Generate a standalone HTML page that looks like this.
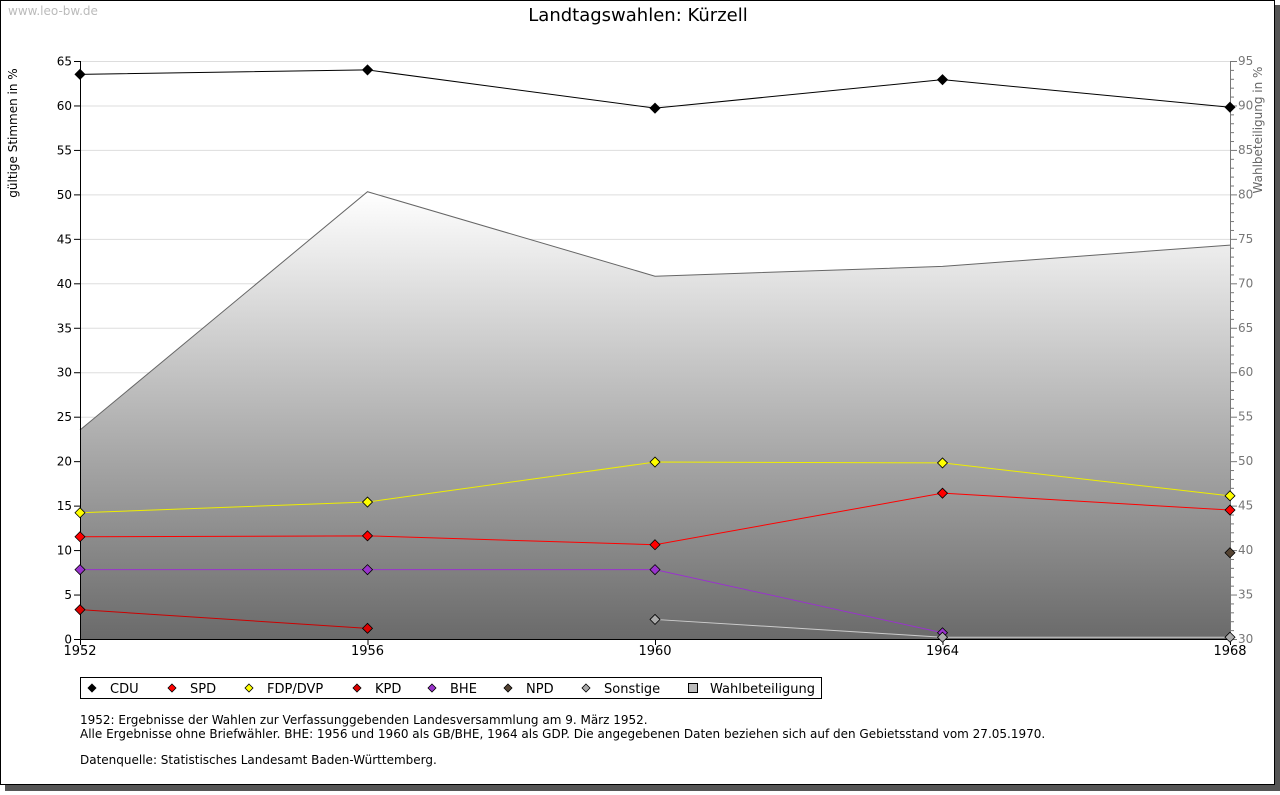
<!DOCTYPE html>
<html><head><meta charset="utf-8"><style>
body{margin:0;background:#fff;font-family:"DejaVu Sans","Liberation Sans",sans-serif;}
svg text{font-family:"DejaVu Sans","Liberation Sans",sans-serif;}
</style></head><body>
<svg id="c" width="1280" height="791" xmlns="http://www.w3.org/2000/svg">
<defs><linearGradient id="g" x1="0" y1="0" x2="0" y2="1"><stop offset="0" stop-color="#ffffff"/><stop offset="1" stop-color="#6a6a6a"/></linearGradient></defs>
<rect x="5" y="5" width="1275" height="786" fill="#555"/>
<rect x="0.5" y="0.5" width="1274" height="784" fill="#fff" stroke="#000"/>
<text x="8" y="15" font-size="12" fill="#bbb">www.leo-bw.de</text>
<text x="638" y="21" font-size="18" text-anchor="middle">Landtagswahlen: Kürzell</text>
<text transform="translate(17,133) rotate(-90)" font-size="12" text-anchor="middle">gültige Stimmen in %</text>
<text transform="translate(1262,130) rotate(-90)" font-size="12" fill="#666" text-anchor="middle">Wahlbeteiligung in %</text>
<g id="grid"></g><g id="area"></g><g id="axes"></g><g id="series"></g>
<g>
<rect x="80.5" y="677.5" width="741" height="21" fill="#fff" stroke="#000"/>
<g id="leg"></g></g>
<text font-size="12"><tspan x="80" y="724">1952: Ergebnisse der Wahlen zur Verfassunggebenden Landesversammlung am 9. März 1952.</tspan><tspan x="80" y="738">Alle Ergebnisse ohne Briefwähler. BHE: 1956 und 1960 als GB/BHE, 1964 als GDP. Die angegebenen Daten beziehen sich auf den Gebietsstand vom 27.05.1970.</tspan><tspan x="80" y="764">Datenquelle: Statistisches Landesamt Baden-Württemberg.</tspan></text>
</svg>
<script>
const years=[1952,1956,1960,1964,1968];
const cdu=[63.5,64.0,59.7,62.9,59.8];
const spd=[11.5,11.6,10.6,16.4,14.5];
const fdp=[14.2,15.4,19.9,19.8,16.1];
const kpd=[3.3,1.2,null,null,null];
const bhe=[7.8,7.8,7.8,0.7,null];
const npd=[null,null,null,null,9.7];
const sonst=[null,null,2.2,0.2,0.2];
const turnout=[53.5,80.3,70.8,71.9,74.3];
const leftTicks=[0,5,10,15,20,25,30,35,40,45,50,55,60,65];
const rightTicks=[30,35,40,45,50,55,60,65,70,75,80,85,90,95];
const NS='http://www.w3.org/2000/svg';
const X0=80,X1=1230,YT=61,YB=639;
const xs=y=>X0+(y-1952)/(1968-1952)*(X1-X0);
const yl=v=>YB-v/65*(YB-YT);
const yr=v=>YB-(v-30)/65*(YB-YT);
function mk(t,a,p){const e=document.createElementNS(NS,t);for(const k in a)e.setAttribute(k,a[k]);p.appendChild(e);return e;}
const grid=document.getElementById('grid'),axes=document.getElementById('axes'),area=document.getElementById('area'),ser=document.getElementById('series');
leftTicks.forEach(v=>{const y=yl(v)+0.5;
 const l=mk('line',{x1:X0,x2:X1,y1:y,y2:y,stroke:'#ddd'},grid);
 
 
 mk('line',{x1:X0-6,x2:X0,y1:y,y2:y,stroke:'#000'},axes);
 const t=mk('text',{x:X0-8,y:y+4,'font-size':12,'text-anchor':'end'},axes);t.textContent=v;
 
 });
for(let v=30;v<=95;v++){const y=yr(v)+0.5;mk('line',{x1:X1,x2:X1+(v%5?4:7),y1:y,y2:y,stroke:'#777'},axes);}
rightTicks.forEach(v=>{const t=mk('text',{x:X1+8,y:yr(v)+4,'font-size':12,fill:'#777'},axes);t.textContent=v;
 
 });
let d='M'+X0+','+YB;years.forEach((y,i)=>d+=' L'+xs(y)+','+yr(turnout[i]));d+=' L'+X1+','+YB+'Z';
const ar=mk('path',{d:d,fill:'url(#g)'},area);


const tl=mk('polyline',{points:years.map((y,i)=>xs(y)+','+yr(turnout[i])).join(' '),fill:'none',stroke:'#666'},area);


mk('line',{x1:X0+0.5,x2:X0+0.5,y1:YT,y2:YB,stroke:'#000'},axes);
mk('line',{x1:X1+0.5,x2:X1+0.5,y1:YT,y2:YB,stroke:'#777'},axes);
mk('line',{x1:X0,x2:X1,y1:YB+0.5,y2:YB+0.5,stroke:'#000'},axes);
years.forEach(y=>{const x=xs(y);mk('line',{x1:x+0.5,x2:x+0.5,y1:YB,y2:YB+6,stroke:'#000'},axes);
 const t=mk('text',{x:x,y:YB+16,'font-size':13,'text-anchor':'middle'},axes);t.textContent=y;
 
 });
function dia(x,y,c,p){return mk('path',{d:`M${x},${y-5}L${x+5},${y}L${x},${y+5}L${x-5},${y}Z`,fill:c,stroke:'#000','stroke-width':0.8},p);}
const S=[['cdu',cdu,'#000','#000'],['spd',spd,'#f00','#f00'],['fdp',fdp,'#ee0','#ff0'],['kpd',kpd,'#c00','#d00'],['bhe',bhe,'#9933cc','#93c'],['npd',npd,'#543','#543'],['sonstige',sonst,'#ccc','#aaa']];
S.forEach(([n,arr,lc,mc])=>{const g=mk('g',{},ser);
 
 
 let pts=[];arr.forEach((v,i)=>{if(v!==null)pts.push(xs(years[i])+','+yl(v));});
 if(pts.length>1)mk('polyline',{points:pts.join(' '),fill:'none',stroke:lc},g);
 arr.forEach((v,i)=>{if(v===null)return;const m=dia(xs(years[i]),yl(v),mc,g);
  
  });});
const leg=document.getElementById('leg');
const L=[['CDU','#000',92],['SPD','#f00',172],['FDP/DVP','#ff0',249],['KPD','#d00',357],['BHE','#93c',432],['NPD','#543',508],['Sonstige','#aaa',586]];
L.forEach(([n,c,x])=>{const e=dia(x,688,c,leg);e.setAttribute('d',`M${x},684L${x+4},688L${x},692L${x-4},688Z`);
 const t=mk('text',{x:x+18,y:693,'font-size':13},leg);t.textContent=n;
 
 });
mk('rect',{x:688.5,y:683.5,width:9,height:9,fill:'#bbb',stroke:'#000'},leg);
const lt=mk('text',{x:710,y:693,'font-size':13},leg);lt.textContent='Wahlbeteiligung';


</script>
</body></html>
